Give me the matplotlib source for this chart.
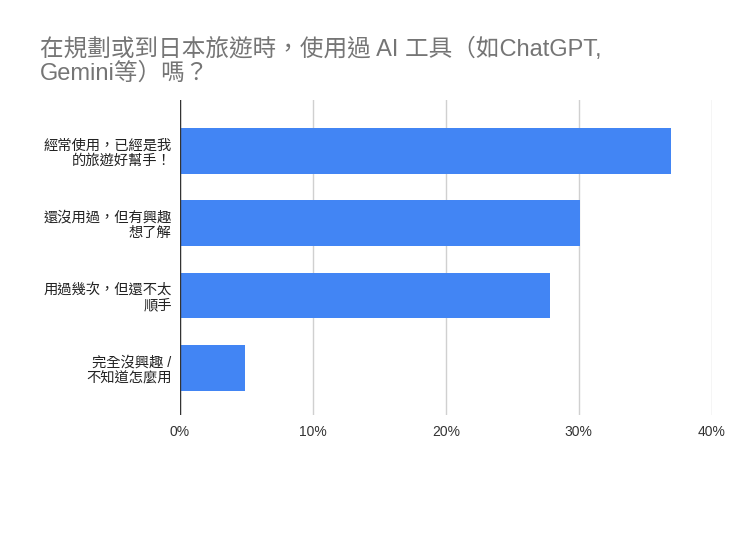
import matplotlib.pyplot as plt

plt.rcParams['font.family'] = ['Liberation Sans', 'Noto Sans CJK TC', 'DejaVu Sans']

# 選項與比例 (%)
categories = ['經常使用，已經是我\n的旅遊好幫手！',
              '還沒用過，但有興趣\n想了解',
              '用過幾次，但還不太\n順手',
              '完全沒興趣 /\n不知道怎麼用']
values = [36.9, 30.1, 27.8, 4.9]
ticks = [0, 10, 20, 30, 40]
tick_labels = ['0%', '10%', '20%', '30%', '40%']

fig = plt.figure(figsize=(7.5, 5.36), dpi=100)
ax = fig.add_axes([0.24, 0.226, 0.709, 0.587])

ypos = list(range(len(categories)))
ax.barh(ypos, values, height=0.63, color='#4285F4', zorder=3)

ax.set_xlim(0, 40)
ax.set_ylim(3.65, -0.7)
ax.set_xticks(ticks)
ax.set_xticklabels(tick_labels, fontsize=10, color='#333333')
ax.set_yticks(ypos)
ax.set_yticklabels(categories, fontsize=10.3, color='#222222', linespacing=1.15,
                   ha='right')
ax.tick_params(axis='both', length=0)
ax.tick_params(axis='y', pad=6)
ax.tick_params(axis='x', pad=7)

ax.grid(axis='x', color='#d0d0d0', linewidth=1, zorder=0)
ax.axvline(0, color='#333333', linewidth=1, zorder=4)
for s in ax.spines.values():
    s.set_visible(False)

fig.text(0.053, 0.93, '在規劃或到日本旅遊時，使用過 AI 工具（如ChatGPT,\nGemini等）嗎？',
         fontsize=17, color='#757575', va='top', ha='left', linespacing=1.1)

plt.savefig('out.png', dpi=100)
